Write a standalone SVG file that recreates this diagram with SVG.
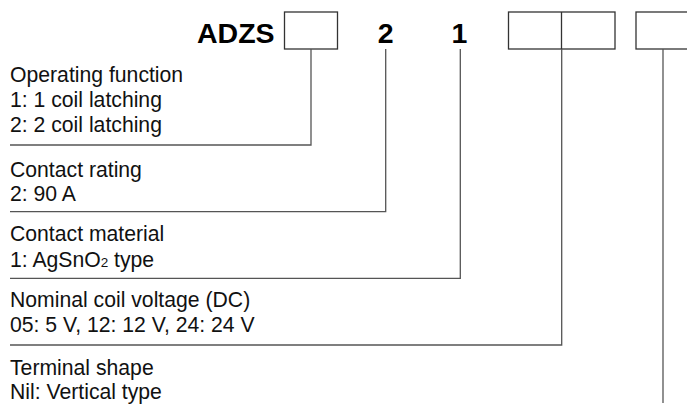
<svg xmlns="http://www.w3.org/2000/svg" width="687" height="407" viewBox="0 0 687 407">
<style>
.t{font-family:"Liberation Sans",Arial,sans-serif;font-size:21.2px;fill:#111}
.h{font-family:"Liberation Sans",Arial,sans-serif;font-size:28.5px;font-weight:bold;fill:#000}
.box{fill:#fff;stroke:#333;stroke-width:1.3}
.c{fill:none;stroke:#555;stroke-width:1.3}
</style>
<rect width="687" height="407" fill="#fff"/>
<g id="header">
<text class="h" x="197" y="43">ADZS</text>
<rect class="box" x="284.5" y="12" width="53" height="37"/>
<text class="h" x="385.7" y="43" text-anchor="middle">2</text>
<text class="h" x="459.5" y="43" text-anchor="middle">1</text>
<rect class="box" x="508.5" y="12" width="106.5" height="37"/>
<line class="box" x1="561.5" y1="12" x2="561.5" y2="49"/>
<rect class="box" x="636" y="12" width="60" height="37"/>
</g>
<g id="connectors">
<polyline class="c" points="311,49 311,145 10,145"/>
<polyline class="c" points="385.7,49 385.7,211.7 10,211.7"/>
<polyline class="c" points="460.3,49 460.3,278.3 10,278.3"/>
<polyline class="c" points="561.7,49 561.7,345 10,345"/>
<line class="c" x1="663" y1="49" x2="663" y2="403"/>
</g>
<g id="operating-function">
<text class="t" x="10" y="81.7">Operating function</text>
<text class="t" x="10" y="106.7">1: 1 coil latching</text>
<text class="t" x="10" y="131.7">2: 2 coil latching</text>
</g>
<g id="contact-rating">
<text class="t" x="10" y="176.7">Contact rating</text>
<text class="t" x="10" y="200.5">2: 90 A</text>
</g>
<g id="contact-material">
<text class="t" x="10" y="241">Contact material</text>
<text class="t" x="10" y="266.7">1: AgSnO<tspan font-size="13.5">2</tspan> type</text>
</g>
<g id="coil-voltage">
<text class="t" x="10" y="307">Nominal coil voltage (DC)</text>
<text class="t" x="10" y="332">05: 5 V, 12: 12 V, 24: 24 V</text>
</g>
<g id="terminal-shape">
<text class="t" x="10" y="375">Terminal shape</text>
<text class="t" x="10" y="398.5">Nil: Vertical type</text>
</g>
</svg>
